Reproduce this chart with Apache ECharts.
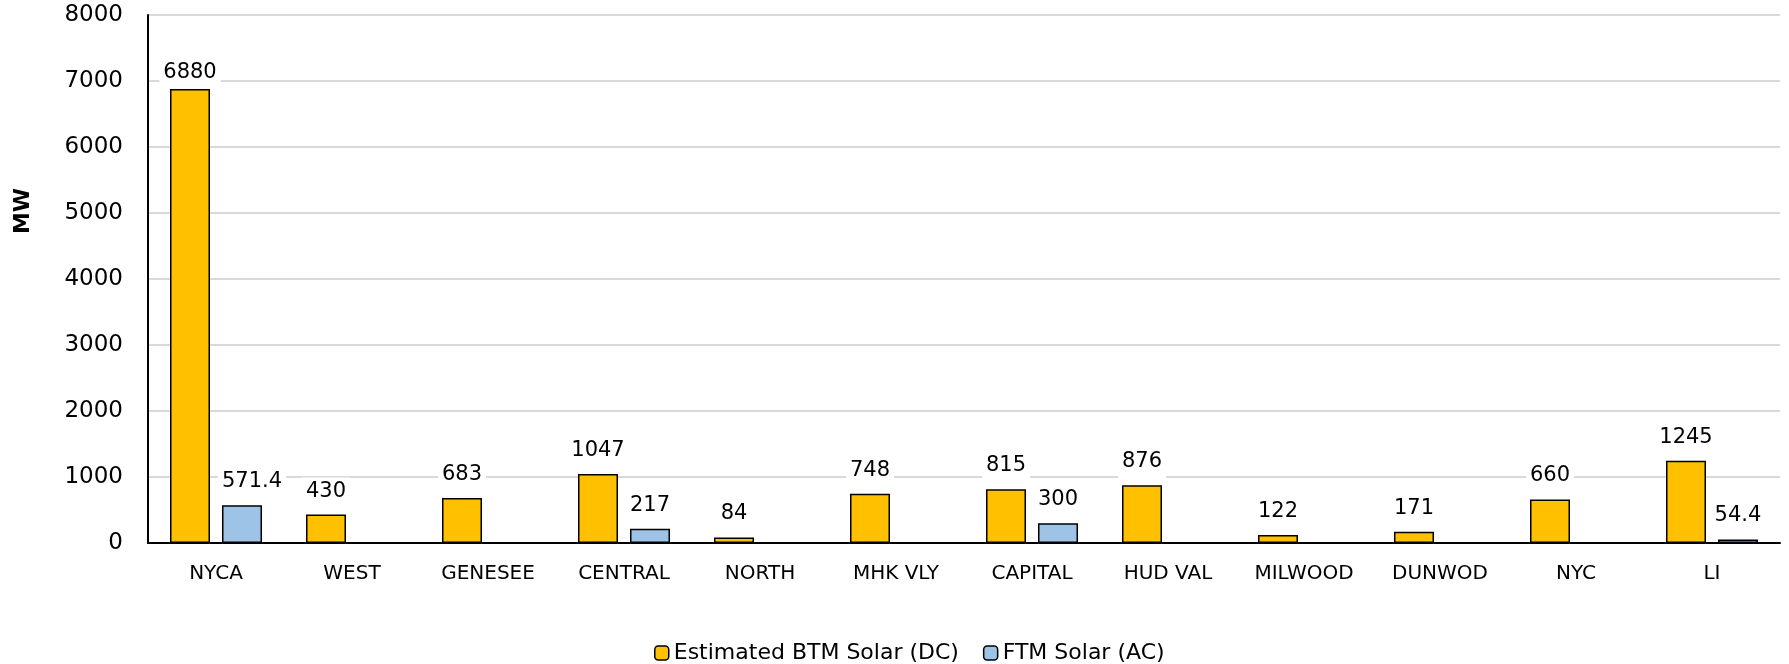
<!DOCTYPE html>
<html>
<head>
<meta charset="utf-8">
<script src="https://cdn.jsdelivr.net/npm/echarts@6/dist/echarts.min.js"></script>
<style>
  html, body { margin: 0; padding: 0; background: #fff; }
  #chart { width: 1789px; height: 664px; }
</style>
</head>
<body>
<div id="chart"></div>
<script>
const zones = ['NYCA', 'WEST', 'GENESEE', 'CENTRAL', 'NORTH', 'MHK VLY', 'CAPITAL', 'HUD VAL', 'MILWOOD', 'DUNWOD', 'NYC', 'LI'];
const btmSolar = [6880, 430, 683, 1047, 84, 748, 815, 876, 122, 171, 660, 1245];
const ftmSolar = [571.4, null, null, 217, null, null, 300, null, null, null, null, 54.4];
const yTicks = [0, 1000, 2000, 3000, 4000, 5000, 6000, 7000, 8000];

const FONT = '"DejaVu Sans", Verdana, sans-serif';

const chart = echarts.init(document.getElementById('chart'));

const labelStyle = {
  show: true,
  position: 'top',
  distance: 7,
  fontFamily: FONT,
  fontSize: 21,
  color: '#000',
  backgroundColor: '#fff',
  padding: [3, 4, 6, 4]
};

const option = {
  animation: false,
  textStyle: { fontFamily: FONT },
  grid: { left: 148, right: 9, top: 15, bottom: 121 },
  legend: {
    top: 642,
    left: 654,
    padding: 0,
    itemWidth: 14,
    itemHeight: 14,
    itemGap: 24,
    itemStyle: { borderColor: '#000', borderWidth: 1.5 },
    textStyle: { fontFamily: FONT, fontSize: 22, color: '#000' },
    data: ['Estimated BTM Solar (DC)', 'FTM Solar (AC)']
  },
  graphic: [{
    type: 'text',
    x: 23,
    y: 211,
    rotation: Math.PI / 2,
    style: {
      text: 'MW',
      fontFamily: FONT,
      fontSize: 22,
      fontWeight: 'bold',
      fill: '#000',
      align: 'center',
      verticalAlign: 'middle'
    }
  }],
  xAxis: {
    type: 'category',
    data: zones,
    axisLine: { lineStyle: { color: '#000', width: 2 } },
    axisTick: { show: false },
    axisLabel: { interval: 0, margin: 21, fontFamily: FONT, fontSize: 20, color: '#000' }
  },
  yAxis: {
    type: 'value',
    min: yTicks[0],
    max: yTicks[yTicks.length - 1],
    interval: 1000,
    axisLine: { show: true, lineStyle: { color: '#000', width: 2 } },
    axisTick: { show: false },
    axisLabel: {
      margin: 25,
      fontFamily: FONT,
      fontSize: 23,
      color: '#000',
      formatter: v => String(v)
    },
    splitLine: { lineStyle: { color: '#d9d9d9', width: 2 } }
  },
  series: [
    {
      name: 'Estimated BTM Solar (DC)',
      type: 'bar',
      barWidth: 40,
      barGap: '30%',
      itemStyle: { color: '#FFC000', borderColor: '#000', borderWidth: 1.5 },
      label: labelStyle,
      // the tallest bar's label sits tighter against the plot top
      data: btmSolar.map(v => v > 6000 ? { value: v, label: { distance: 1, padding: [3, 4, 5, 4] } } : v),
      z: 3
    },
    {
      name: 'FTM Solar (AC)',
      type: 'bar',
      barWidth: 40,
      itemStyle: { color: '#9DC3E6', borderColor: '#000', borderWidth: 1.5 },
      label: labelStyle,
      // first label is nudged right so it clears the neighbouring bar
      data: ftmSolar.map((v, i) => i === 0 ? { value: v, label: { offset: [10, 0] } } : v),
      z: 3
    }
  ]
};

chart.setOption(option);
</script>
</body>
</html>
